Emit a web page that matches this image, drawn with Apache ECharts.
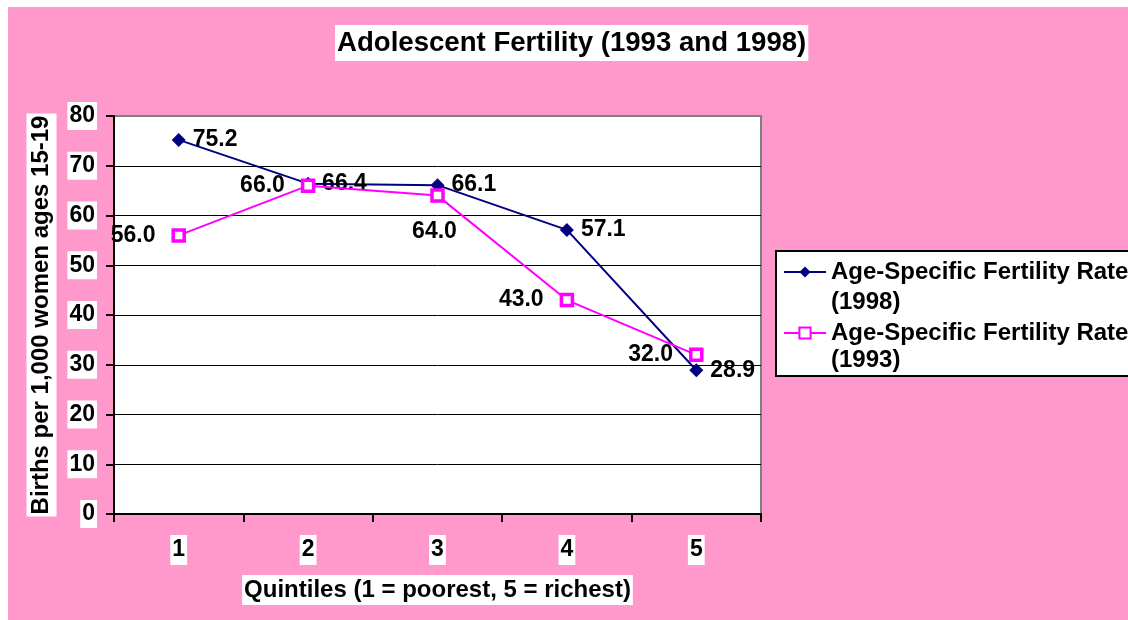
<!DOCTYPE html>
<html>
<head>
<meta charset="utf-8">
<title>Adolescent Fertility</title>
<script src="https://cdn.jsdelivr.net/npm/echarts@6/dist/echarts.min.js"></script>
<style>
  html, body { margin: 0; padding: 0; background: #fff; }
  #wrap { position: relative; width: 1128px; height: 620px; overflow: hidden; }
  #pink { position: absolute; left: 8px; top: 7px; right: 0; bottom: 0; background: #FF99CC; }
  #chart { position: absolute; left: 0; top: 0; width: 1128px; height: 620px; }
</style>
</head>
<body>
<div id="wrap">
  <div id="pink"></div>
  <div id="chart"></div>
</div>
<script>
// data
var quintiles = ['1', '2', '3', '4', '5'];
var rate1998 = [75.2, 66.4, 66.1, 57.1, 28.9];
var rate1993 = [56.0, 66.0, 64.0, 43.0, 32.0];
var name1998 = 'Age-Specific Fertility Rate (1998)';
var name1993 = 'Age-Specific Fertility Rate (1993)';

var FONT = '"Liberation Sans", Arial, sans-serif';

var myChart = echarts.init(document.getElementById('chart'), null, {renderer: 'canvas'});

// 64.0 sits under its point in the original, the others to the left
var data1993 = rate1993.map(function (v, i) {
    if (i === 2) {
        return {value: v, label: {position: 'bottom', distance: 17, offset: [-3, 0]}};
    }
    return v;
});

var labelFmt = function (p) {
    return Number(p.value).toFixed(1);
};

var option = {
    backgroundColor: 'transparent',
    animation: false,
    title: {
        text: 'Adolescent Fertility (1993 and 1998)',
        left: 335,
        top: 25,
        padding: [4, 2],
        backgroundColor: '#fff',
        textStyle: {
            fontFamily: FONT,
            fontSize: 27.6,
            lineHeight: 28,
            fontWeight: 'bold',
            color: '#000'
        }
    },
    legend: {
        orient: 'vertical',
        left: 776,
        top: 251,
        padding: [9, 10, 31, 7],
        itemWidth: 42,
        itemHeight: 14,
        itemGap: 37,
        backgroundColor: '#fff',
        borderColor: '#000',
        borderWidth: 2,
        data: [name1998, name1993],
        formatter: function (name) {
            return name.split(' (')[0];
        },
        textStyle: {
            fontFamily: FONT,
            fontSize: 24,
            lineHeight: 24,
            fontWeight: 'bold',
            color: '#000'
        }
    },
    // second lines of the legend text
    graphic: [
        {
            type: 'text', left: 831, top: 290, z: 20,
            style: {text: '(1998)', font: 'bold 24px ' + FONT, fill: '#000'}
        },
        {
            type: 'text', left: 831, top: 348, z: 20,
            style: {text: '(1993)', font: 'bold 24px ' + FONT, fill: '#000'}
        }
    ],
    grid: {
        left: 114,
        right: 367,
        top: 116,
        bottom: 106,
        outerBoundsMode: 'none',
        containLabel: false,
        show: true,
        backgroundColor: '#fff',
        borderColor: '#808080',
        borderWidth: 2
    },
    xAxis: {
        type: 'category',
        data: quintiles,
        boundaryGap: true,
        name: 'Quintiles (1 = poorest, 5 = richest)',
        nameLocation: 'middle',
        nameGap: 61,
        nameTextStyle: {
            fontFamily: FONT,
            fontSize: 24,
            lineHeight: 24,
            fontWeight: 'bold',
            color: '#000',
            backgroundColor: '#fff',
            padding: [3, 2]
        },
        axisLine: {lineStyle: {color: '#000', width: 2}},
        axisTick: {show: true, alignWithLabel: false, length: 8, lineStyle: {color: '#000', width: 2}},
        axisLabel: {
            margin: 21,
            fontFamily: FONT,
            fontSize: 23,
            lineHeight: 24,
            fontWeight: 'bold',
            color: '#000',
            backgroundColor: '#fff',
            padding: [3, 2]
        },
        splitLine: {show: false}
    },
    yAxis: {
        type: 'value',
        min: 0,
        max: 80,
        interval: 10,
        name: 'Births per 1,000 women ages 15-19',
        nameLocation: 'middle',
        nameGap: 54,
        nameTextStyle: {
            fontFamily: FONT,
            fontSize: 24,
            lineHeight: 24,
            fontWeight: 'bold',
            color: '#000',
            backgroundColor: '#fff',
            padding: [3, 2]
        },
        axisLine: {show: true, lineStyle: {color: '#000', width: 2}},
        axisTick: {show: true, length: 8, lineStyle: {color: '#000', width: 2}},
        axisLabel: {
            margin: 17,
            fontFamily: FONT,
            fontSize: 23,
            lineHeight: 24,
            fontWeight: 'bold',
            color: '#000',
            backgroundColor: '#fff',
            padding: [2, 2]
        },
        splitLine: {
            show: true,
            showMinLine: false,
            showMaxLine: false,
            lineStyle: {color: '#000', width: 1}
        }
    },
    series: [
        {
            name: name1998,
            type: 'line',
            data: rate1998,
            symbol: 'diamond',
            symbolSize: 14,
            z: 3,
            itemStyle: {color: '#000080'},
            lineStyle: {color: '#000080', width: 2},
            label: {
                show: true,
                position: 'right',
                distance: 7,
                formatter: labelFmt,
                fontFamily: FONT,
                fontSize: 23,
                fontWeight: 'bold',
                color: '#000'
            }
        },
        {
            name: name1993,
            type: 'line',
            data: data1993,
            symbol: 'rect',
            symbolSize: 11,
            z: 4,
            itemStyle: {color: '#fff', borderColor: '#FF00FF', borderWidth: 3.5},
            lineStyle: {color: '#FF00FF', width: 2},
            label: {
                show: true,
                position: 'left',
                distance: 16,
                formatter: labelFmt,
                fontFamily: FONT,
                fontSize: 23,
                fontWeight: 'bold',
                color: '#000'
            }
        }
    ]
};

myChart.setOption(option);
</script>
</body>
</html>
